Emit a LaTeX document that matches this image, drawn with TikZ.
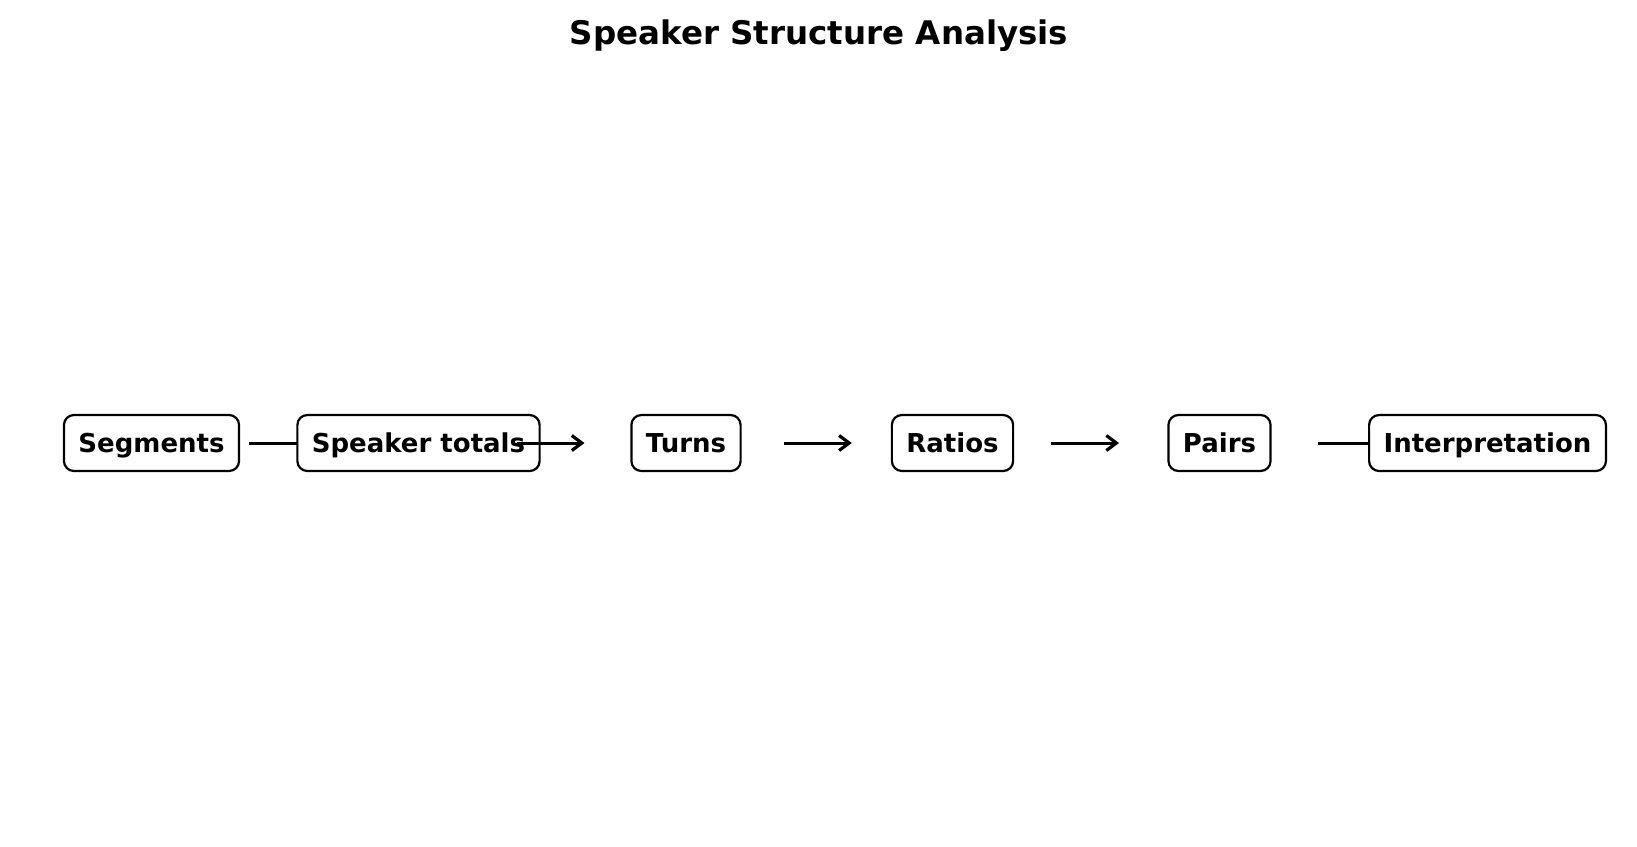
\documentclass[tikz,border=0pt]{standalone}
\usepackage{fontspec}
\setmainfont{DejaVu Sans}
\usetikzlibrary{arrows.meta}
\begin{document}
\begin{tikzpicture}[x=0.5pt,y=-0.5pt,
  stagebox/.style={draw=black, line width=1.1pt, fill=white, rounded corners=5pt,
    minimum height=28pt, inner xsep=7.25pt, inner ysep=0pt,
    text height=9.5pt, text depth=0pt,
    font=\fontsize{13}{15.6}\selectfont\bfseries},
  flowarrow/.style={line width=1.5pt, -{Straight Barb[length=5pt,width=7.5pt,line width=1.6pt]}},
  titletext/.style={font=\fontsize{16.25}{19.5}\selectfont\bfseries, inner sep=0pt, anchor=base}
]
\useasboundingbox[fill=white] (0,0) rectangle (1637,846);
\node[titletext] (title) at (819,44) {Speaker Structure Analysis};
\def\yc{443}
\coordinate (a1s) at (249.2,\yc);  \coordinate (a1e) at (317.2,\yc);
\coordinate (a2s) at (516.5,\yc);  \coordinate (a2e) at (584.5,\yc);
\coordinate (a3s) at (783.8,\yc);  \coordinate (a3e) at (851.8,\yc);
\coordinate (a4s) at (1051,\yc);   \coordinate (a4e) at (1119,\yc);
\coordinate (a5s) at (1318.4,\yc); \coordinate (a5e) at (1386.4,\yc);
\node[stagebox] (s1) at (151.5,\yc) {Segments};
\draw[flowarrow] (a1s) -- (a1e);
\node[stagebox] (s2) at (418.5,\yc) {Speaker totals};
\draw[flowarrow] (a2s) -- (a2e);
\node[stagebox] (s3) at (686,\yc) {Turns};
\draw[flowarrow] (a3s) -- (a3e);
\node[stagebox] (s4) at (952.5,\yc) {Ratios};
\draw[flowarrow] (a4s) -- (a4e);
\node[stagebox] (s5) at (1219.5,\yc) {Pairs};
\draw[flowarrow] (a5s) -- (a5e);
\node[stagebox] (s6) at (1487.5,\yc) {Interpretation};
\end{tikzpicture}
\end{document}
